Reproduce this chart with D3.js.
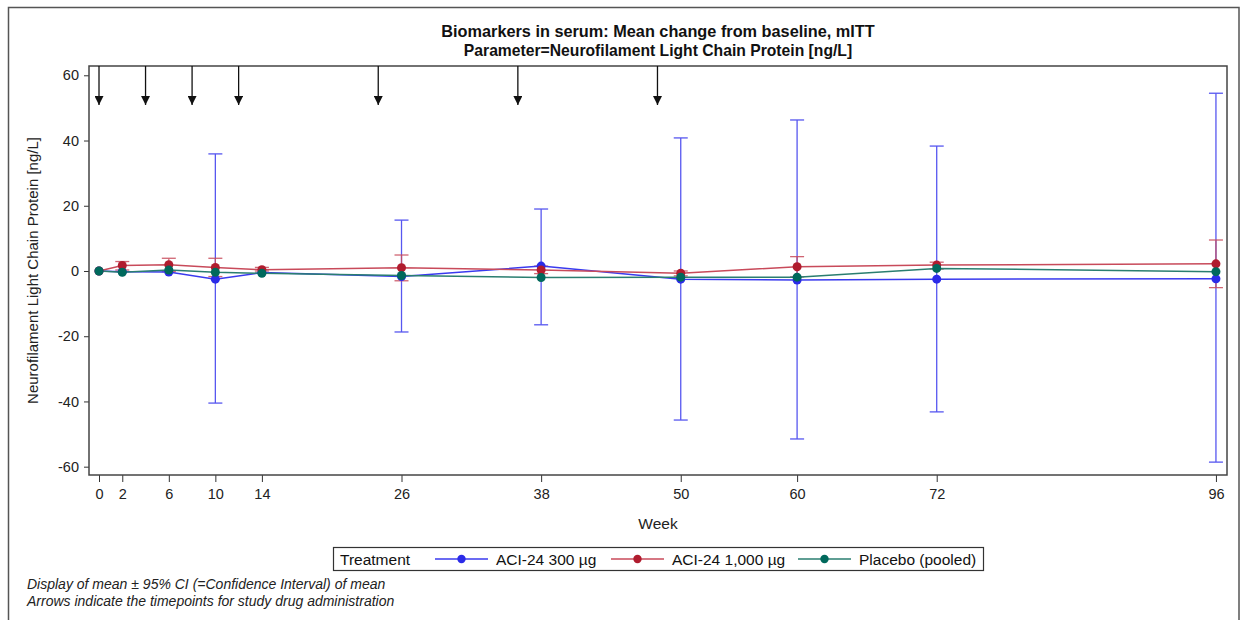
<!DOCTYPE html>
<html><head><meta charset="utf-8">
<script src="https://cdn.jsdelivr.net/npm/d3@7"></script>
<style>body{margin:0;background:#fff;} text{font-family:Arial,"Liberation Sans",sans-serif;}</style>
</head><body>
<svg id="c" width="1241" height="620"></svg>
<script>
const weeks = [0, 2, 6, 10, 14, 26, 38, 50, 60, 72, 96];
const xTicks = [0, 2, 6, 10, 14, 26, 38, 50, 60, 72, 96];
const yTicks = [-60, -40, -20, 0, 20, 40, 60];
const doseWeeks = [0, 4, 8, 12, 24, 36, 48];
const seriesNames = ["ACI-24 300 µg", "ACI-24 1,000 µg", "Placebo (pooled)"];
const seriesColors = ["#2b2be8", "#b01c2e", "#00695c"];
const lineColors = ["#3a3aee", "#c84a5a", "#2a7e70"];

const blueMean = [0, -0.2, -0.3, -2.5, -0.5, -1.7, 1.5, -2.5, -2.8, -2.5, -2.4];
const blueLow  = [null, null, null, -40.5, null, -18.7, -16.5, -45.7, -51.5, -43.2, -58.6];
const blueHigh = [null, null, null, 35.9, null, 15.6, 19.0, 40.8, 46.3, 38.3, 54.5];
const redMean  = [0, 1.7, 1.9, 1.1, 0.4, 1.0, 0.3, -0.7, 1.3, 1.8, 2.2];
const redLow   = [null, 0.3, -0.2, -1.7, 0.0, -3.0, -0.8, -1.5, -1.8, 0.6, -5.1];
const redHigh  = [null, 2.9, 3.9, 3.9, 1.1, 4.9, 1.5, 0.0, 4.4, 2.7, 9.5];
const greenMean= [0, -0.4, 0.3, -0.4, -0.7, -1.4, -2.0, -1.9, -1.9, 0.8, -0.2];

const series = [
  {mean: blueMean, low: blueLow, high: blueHigh},
  {mean: redMean, low: redLow, high: redHigh},
  {mean: greenMean, low: null, high: null}
];

const svg = d3.select("#c");
const L = 89, R = 1227, T = 66, B = 475;
const x = d3.scaleLinear().domain([-0.86, 96.95]).range([L, R]);
const y = d3.scaleLinear().domain([-62.55, 62.85]).range([B, T]);

// outer frame
svg.append("rect").attr("x", 8.5).attr("y", 7.5).attr("width", 1230.5).attr("height", 640)
  .attr("fill", "none").attr("stroke", "#555").attr("stroke-width", 1.5);

// titles
svg.append("text").attr("x", 658).attr("y", 37).attr("text-anchor", "middle")
  .attr("font-size", 16.3).attr("font-weight", "bold").attr("fill", "#111").text("Biomarkers in serum: Mean change from baseline, mITT");
svg.append("text").attr("x", 658).attr("y", 56).attr("text-anchor", "middle")
  .attr("font-size", 15.7).attr("font-weight", "bold").attr("fill", "#111").text("Parameter=Neurofilament Light Chain Protein [ng/L]");

// axes
const yAxis = d3.axisLeft(y).tickValues(yTicks).tickSize(5).tickSizeOuter(0).tickFormat(d => String(d));
const gy = svg.append("g").attr("transform", `translate(${L},0)`).call(yAxis);
gy.select(".domain").remove();
gy.selectAll("text").attr("font-size", 14.5).attr("fill", "#222").attr("x", -10);
gy.selectAll("line").attr("stroke", "#333");

const xAxis = d3.axisBottom(x).tickValues(xTicks).tickSize(7).tickSizeOuter(0).tickFormat(d => String(d));
const gx = svg.append("g").attr("transform", `translate(0,${B})`).call(xAxis);
gx.select(".domain").remove();
gx.selectAll("text").attr("font-size", 14.5).attr("fill", "#222").attr("dy", "0.95em").attr("y", 10);
gx.selectAll("line").attr("stroke", "#333");

svg.append("rect").attr("x", L).attr("y", T).attr("width", R - L).attr("height", B - T)
  .attr("fill", "none").attr("stroke", "#444").attr("stroke-width", 1.5);

svg.append("text").attr("transform", `translate(38,${(T + B) / 2}) rotate(-90)`)
  .attr("text-anchor", "middle").attr("font-size", 15).attr("fill", "#222")
  .text("Neurofilament Light Chain Protein [ng/L]");
svg.append("text").attr("x", 658).attr("y", 529).attr("text-anchor", "middle")
  .attr("font-size", 15.5).attr("fill", "#222").text("Week");

// arrows
const defs = svg.append("defs");
defs.append("marker").attr("id", "arr").attr("viewBox", "0 0 10 10").attr("refX", 10).attr("refY", 5)
  .attr("markerWidth", 10).attr("markerHeight", 9).attr("markerUnits", "userSpaceOnUse").attr("orient", "auto")
  .append("path").attr("d", "M0,0 L10,5 L0,10 z").attr("fill", "#111");
svg.append("g").selectAll("line").data(doseWeeks).join("line")
  .attr("x1", d => x(d)).attr("x2", d => x(d)).attr("y1", T).attr("y2", T + 39)
  .attr("stroke", "#111").attr("stroke-width", 1.3).attr("marker-end", "url(#arr)");

// error bars
series.forEach((s, i) => {
  if (!s.low) return;
  const g = svg.append("g").attr("stroke", lineColors[i]).attr("stroke-width", 1.3).attr("opacity", 0.85);
  weeks.forEach((w, j) => {
    if (s.low[j] === null) return;
    const cx = x(w);
    g.append("line").attr("x1", cx).attr("x2", cx).attr("y1", y(s.low[j])).attr("y2", y(s.high[j]));
    g.append("line").attr("x1", cx - 7).attr("x2", cx + 7).attr("y1", y(s.low[j])).attr("y2", y(s.low[j]));
    g.append("line").attr("x1", cx - 7).attr("x2", cx + 7).attr("y1", y(s.high[j])).attr("y2", y(s.high[j]));
  });
});

// lines and markers
const line = d3.line().x((d, j) => x(weeks[j])).y(d => y(d));
series.forEach((s, i) => {
  svg.append("path").datum(s.mean).attr("d", line).attr("fill", "none")
    .attr("stroke", lineColors[i]).attr("stroke-width", 1.5);
});
series.forEach((s, i) => {
  svg.append("g").selectAll("circle").data(s.mean).join("circle")
    .attr("cx", (d, j) => x(weeks[j])).attr("cy", d => y(d)).attr("r", 4.5)
    .attr("fill", seriesColors[i]);
});

// legend
const lg = svg.append("g");
lg.append("rect").attr("x", 333.5).attr("y", 547.5).attr("width", 650).attr("height", 23)
  .attr("fill", "#fff").attr("stroke", "#333").attr("stroke-width", 1.2);
lg.append("text").attr("x", 340).attr("y", 564.5).attr("font-size", 15.5).attr("fill", "#111").text("Treatment");
const legX = [435, 611, 798];
const legTX = [496, 672, 859];
seriesNames.forEach((n, i) => {
  lg.append("line").attr("x1", legX[i]).attr("x2", legX[i] + 53).attr("y1", 559).attr("y2", 559)
    .attr("stroke", lineColors[i]).attr("stroke-width", 1.5);
  lg.append("circle").attr("cx", legX[i] + 26.5).attr("cy", 559).attr("r", 4.2).attr("fill", seriesColors[i]);
  lg.append("text").attr("x", legTX[i]).attr("y", 564.5).attr("font-size", 15.5).attr("fill", "#111").text(n);
});

// footnotes
svg.append("text").attr("x", 27).attr("y", 589).attr("font-size", 14).attr("font-style", "italic").attr("fill", "#222")
  .text("Display of mean ± 95% CI (=Confidence Interval) of mean");
svg.append("text").attr("x", 27).attr("y", 606).attr("font-size", 14).attr("font-style", "italic").attr("fill", "#222")
  .text("Arrows indicate the timepoints for study drug administration");
</script>
</body></html>
